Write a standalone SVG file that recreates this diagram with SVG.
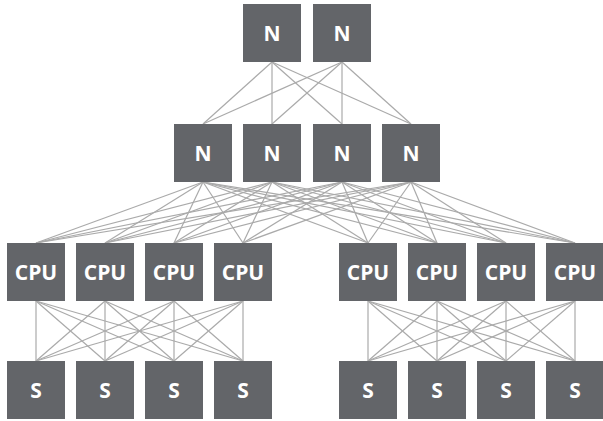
<svg xmlns="http://www.w3.org/2000/svg" width="603" height="421" viewBox="0 0 603 421">
<style>
.b{fill:#636569}
.t{fill:#ffffff;font-family:"Open Sans","Liberation Sans",sans-serif;font-weight:bold;font-size:21px;text-anchor:middle}
.c line{stroke:#aaaaaa;stroke-width:1.2}
</style>
<rect width="603" height="421" fill="#ffffff"/>
<g class="c" id="connectors">
<line x1="272" y1="62" x2="203" y2="124"/><line x1="272" y1="62" x2="272" y2="124"/><line x1="272" y1="62" x2="342" y2="124"/><line x1="272" y1="62" x2="411" y2="124"/>
<line x1="342" y1="62" x2="203" y2="124"/><line x1="342" y1="62" x2="272" y2="124"/><line x1="342" y1="62" x2="342" y2="124"/><line x1="342" y1="62" x2="411" y2="124"/>
<line x1="203" y1="182" x2="36" y2="243"/><line x1="203" y1="182" x2="105" y2="243"/><line x1="203" y1="182" x2="174" y2="243"/><line x1="203" y1="182" x2="243" y2="243"/><line x1="203" y1="182" x2="368" y2="243"/><line x1="203" y1="182" x2="437" y2="243"/><line x1="203" y1="182" x2="506" y2="243"/><line x1="203" y1="182" x2="575" y2="243"/>
<line x1="272" y1="182" x2="36" y2="243"/><line x1="272" y1="182" x2="105" y2="243"/><line x1="272" y1="182" x2="174" y2="243"/><line x1="272" y1="182" x2="243" y2="243"/><line x1="272" y1="182" x2="368" y2="243"/><line x1="272" y1="182" x2="437" y2="243"/><line x1="272" y1="182" x2="506" y2="243"/><line x1="272" y1="182" x2="575" y2="243"/>
<line x1="342" y1="182" x2="36" y2="243"/><line x1="342" y1="182" x2="105" y2="243"/><line x1="342" y1="182" x2="174" y2="243"/><line x1="342" y1="182" x2="243" y2="243"/><line x1="342" y1="182" x2="368" y2="243"/><line x1="342" y1="182" x2="437" y2="243"/><line x1="342" y1="182" x2="506" y2="243"/><line x1="342" y1="182" x2="575" y2="243"/>
<line x1="411" y1="182" x2="36" y2="243"/><line x1="411" y1="182" x2="105" y2="243"/><line x1="411" y1="182" x2="174" y2="243"/><line x1="411" y1="182" x2="243" y2="243"/><line x1="411" y1="182" x2="368" y2="243"/><line x1="411" y1="182" x2="437" y2="243"/><line x1="411" y1="182" x2="506" y2="243"/><line x1="411" y1="182" x2="575" y2="243"/>
<line x1="36" y1="301" x2="36" y2="361"/><line x1="36" y1="301" x2="105" y2="361"/><line x1="36" y1="301" x2="174" y2="361"/><line x1="36" y1="301" x2="243" y2="361"/>
<line x1="105" y1="301" x2="36" y2="361"/><line x1="105" y1="301" x2="105" y2="361"/><line x1="105" y1="301" x2="174" y2="361"/><line x1="105" y1="301" x2="243" y2="361"/>
<line x1="174" y1="301" x2="36" y2="361"/><line x1="174" y1="301" x2="105" y2="361"/><line x1="174" y1="301" x2="174" y2="361"/><line x1="174" y1="301" x2="243" y2="361"/>
<line x1="243" y1="301" x2="36" y2="361"/><line x1="243" y1="301" x2="105" y2="361"/><line x1="243" y1="301" x2="174" y2="361"/><line x1="243" y1="301" x2="243" y2="361"/>
<line x1="368" y1="301" x2="368" y2="361"/><line x1="368" y1="301" x2="437" y2="361"/><line x1="368" y1="301" x2="506" y2="361"/><line x1="368" y1="301" x2="575" y2="361"/>
<line x1="437" y1="301" x2="368" y2="361"/><line x1="437" y1="301" x2="437" y2="361"/><line x1="437" y1="301" x2="506" y2="361"/><line x1="437" y1="301" x2="575" y2="361"/>
<line x1="506" y1="301" x2="368" y2="361"/><line x1="506" y1="301" x2="437" y2="361"/><line x1="506" y1="301" x2="506" y2="361"/><line x1="506" y1="301" x2="575" y2="361"/>
<line x1="575" y1="301" x2="368" y2="361"/><line x1="575" y1="301" x2="437" y2="361"/><line x1="575" y1="301" x2="506" y2="361"/><line x1="575" y1="301" x2="575" y2="361"/>
</g>
<g id="n-top-1"><rect class="b" x="243" y="4" width="58" height="58"/><text class="t" x="272" y="40.5">N</text></g>
<g id="n-top-2"><rect class="b" x="313" y="4" width="58" height="58"/><text class="t" x="342" y="40.5">N</text></g>
<g id="n-mid-1"><rect class="b" x="174" y="124" width="58" height="58"/><text class="t" x="203" y="160.5">N</text></g>
<g id="n-mid-2"><rect class="b" x="243" y="124" width="58" height="58"/><text class="t" x="272" y="160.5">N</text></g>
<g id="n-mid-3"><rect class="b" x="313" y="124" width="58" height="58"/><text class="t" x="342" y="160.5">N</text></g>
<g id="n-mid-4"><rect class="b" x="382" y="124" width="58" height="58"/><text class="t" x="411" y="160.5">N</text></g>
<g id="cpu-1"><rect class="b" x="7" y="243" width="58" height="58"/><text class="t" x="36" y="279.5">CPU</text></g>
<g id="cpu-2"><rect class="b" x="76" y="243" width="58" height="58"/><text class="t" x="105" y="279.5">CPU</text></g>
<g id="cpu-3"><rect class="b" x="145" y="243" width="58" height="58"/><text class="t" x="174" y="279.5">CPU</text></g>
<g id="cpu-4"><rect class="b" x="214" y="243" width="58" height="58"/><text class="t" x="243" y="279.5">CPU</text></g>
<g id="cpu-5"><rect class="b" x="339" y="243" width="58" height="58"/><text class="t" x="368" y="279.5">CPU</text></g>
<g id="cpu-6"><rect class="b" x="408" y="243" width="58" height="58"/><text class="t" x="437" y="279.5">CPU</text></g>
<g id="cpu-7"><rect class="b" x="477" y="243" width="58" height="58"/><text class="t" x="506" y="279.5">CPU</text></g>
<g id="cpu-8"><rect class="b" x="546" y="243" width="58" height="58"/><text class="t" x="575" y="279.5">CPU</text></g>
<g id="s-1"><rect class="b" x="7" y="361" width="58" height="58"/><text class="t" x="36" y="397.5">S</text></g>
<g id="s-2"><rect class="b" x="76" y="361" width="58" height="58"/><text class="t" x="105" y="397.5">S</text></g>
<g id="s-3"><rect class="b" x="145" y="361" width="58" height="58"/><text class="t" x="174" y="397.5">S</text></g>
<g id="s-4"><rect class="b" x="214" y="361" width="58" height="58"/><text class="t" x="243" y="397.5">S</text></g>
<g id="s-5"><rect class="b" x="339" y="361" width="58" height="58"/><text class="t" x="368" y="397.5">S</text></g>
<g id="s-6"><rect class="b" x="408" y="361" width="58" height="58"/><text class="t" x="437" y="397.5">S</text></g>
<g id="s-7"><rect class="b" x="477" y="361" width="58" height="58"/><text class="t" x="506" y="397.5">S</text></g>
<g id="s-8"><rect class="b" x="546" y="361" width="58" height="58"/><text class="t" x="575" y="397.5">S</text></g>
</svg>
